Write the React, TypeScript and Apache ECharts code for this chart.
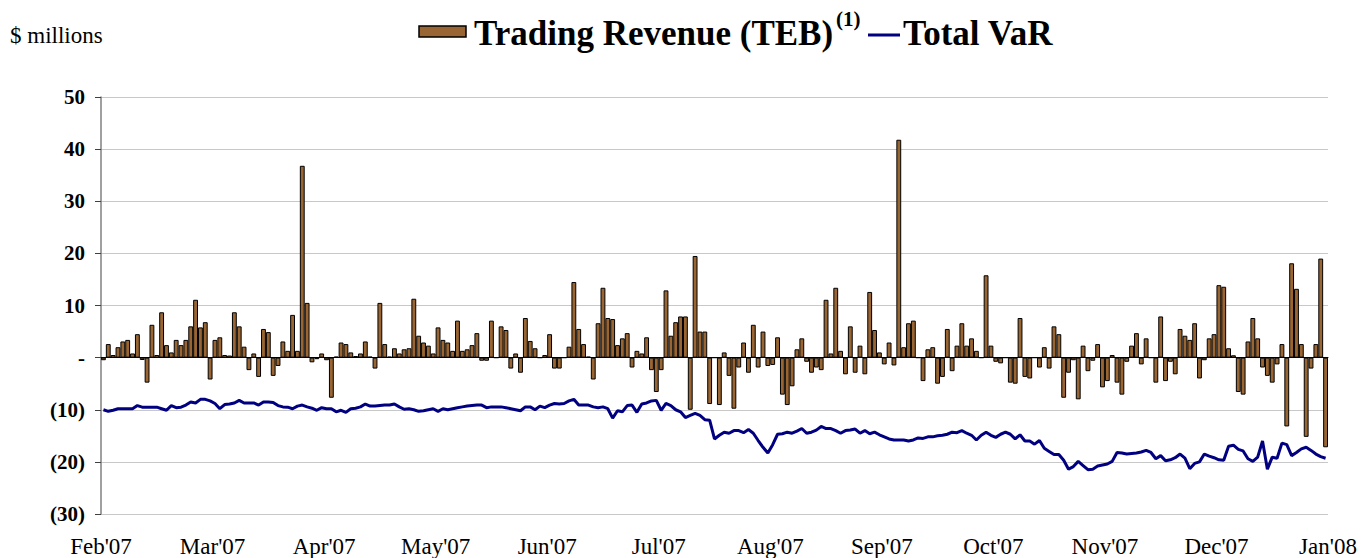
import React, { useEffect, useRef } from "react";
import * as echarts from "echarts";

const monthLabels = ["Feb'07", "Mar'07", "Apr'07", "May'07", "Jun'07", "Jul'07", "Aug'07", "Sep'07", "Oct'07", "Nov'07", "Dec'07", "Jan'08"];

const tradingRevenue = [
  -0.5, 2.6, 0.5, 2.0, 3.1, 3.4, 0.8, 4.5, -0.45, -4.8,
  6.3, 0.5, 8.7, 2.4, 1.0, 3.4, 2.4, 3.4, 6.0, 11.1,
  5.8, 6.8, -4.2, 3.4, 3.9, 0.5, 0.4, 8.7, 6.0, 2.1,
  -2.4, 0.8, -3.7,
  5.5, 4.9, -3.5, -1.6, 3.1, 1.3, 8.2, 1.3, 36.8, 10.5,
  -0.9, -0.3, 0.8, -0.5, -7.7, 0.2, 2.9, 2.6, 1.0, 0.3,
  0.8, 3.1, 0.2, -2.1, 10.5, 2.6, 0.2, 1.8, 0.8, 1.6,
  1.8, 11.3,
  4.2, 2.9, 2.3, 0.8, 5.8, 3.4, 2.9, 1.3, 7.1, 1.3,
  1.6, 2.4, 4.7, -0.6, -0.6, 7.1, 0, 6.0, 5.3, -2.1,
  0.8, -2.9, 7.6, 3.2, 1.8, 0, 0.5, 4.5, -2.1, -2.1,
  0, 2.1, 14.5,
  5.5, 2.6, 0.2, -4.2, 6.6, 13.4, 7.6, 7.4, 2.4, 3.7,
  4.7, -1.9, 1.3, 0.8, 3.9, -2.4, -6.6, -2.4, 12.9, 4.2,
  6.8, 7.9, 7.9, -10.0, 19.5, 5.0, 5.0, -8.9, 0, -9.1,
  1.0, -3.5, -9.8,
  -1.9, 2.9, -2.9, 6.3, -1.9, 5.0, -1.6, -1.4, 3.9, -7.1,
  -9.1, -5.5, 1.6, 3.7, -0.8, -2.9, -1.9, -2.4, 11.1, 0.8,
  13.4, 1.3, -3.2, 6.0, -2.9, 2.3, -3.2, 12.6, 5.3, 1.0,
  -1.3, 2.9, -1.5, 41.8,
  2.0, 6.6, 7.1, 0, -4.5, 1.6, 2.0, -5.0, -3.7, 5.5,
  -2.6, 2.3, 6.6, 2.3, 3.7, 1.3, 0, 15.8, 2.3, -0.8,
  -1.1, 0, -4.8, -5.0, 7.6, -3.7, -4.0, 0, -1.9, 2.0,
  -2.1, 6.0, 4.5,
  -7.7, -2.9, -0.5, -8.0, 2.3, -2.6, -0.6, 2.6, -5.7, -4.5,
  0.5, -4.8, -7.1, -0.8, 2.3, 4.7, -1.3, 3.7, 0, -4.8,
  7.9, -4.5, -0.8, -3.2, 5.5, 4.2, 3.4, 6.6, -4.0, -0.5,
  3.7, 4.5, 13.9,
  13.6, 1.8, 0.45, -6.6, -7.1, 3.1, 7.6, 3.7, -1.9, -3.5,
  -4.8, -1.3, 2.6, -13.2, 18.1, 13.2, 2.6, -15.2, -2.1, 2.6,
  19.0, -17.2,
];

const totalVaR = [
  -10.0, -10.3, -10.1, -9.8, -9.8, -9.8, -9.8, -9.2, -9.5, -9.5,
  -9.5, -9.5, -9.8, -10.1, -9.2, -9.6, -9.5, -9.1, -8.5, -8.7,
  -8.0, -8.0, -8.3, -8.8, -9.8, -9.0, -8.9, -8.7, -8.2, -8.7,
  -8.7, -8.7, -9.1,
  -8.5, -8.5, -8.6, -9.2, -9.45, -9.5, -9.8, -9.3, -9.1, -9.45,
  -9.7, -10.1, -9.6, -9.8, -9.8, -10.4, -10.1, -10.5, -9.8, -9.7,
  -9.45, -8.9, -9.3, -9.3, -9.2, -9.1, -9.1, -8.9, -9.45, -9.9,
  -9.8, -10.0,
  -10.3, -10.2, -10.0, -9.8, -10.3, -9.8, -10.0, -9.8, -9.6, -9.45,
  -9.3, -9.2, -9.1, -9.1, -9.6, -9.45, -9.45, -9.45, -9.6, -9.8,
  -10.0, -10.2, -9.45, -9.45, -10.0, -9.3, -9.6, -9.1, -8.8, -8.9,
  -8.8, -8.3, -8.0,
  -9.1, -9.1, -9.1, -9.45, -9.6, -9.45, -9.8, -11.6, -10.2, -10.4,
  -9.2, -9.1, -10.5, -8.9, -8.7, -8.3, -8.2, -10.1, -8.8, -9.2,
  -10.0, -10.4, -11.5, -11.1, -10.7, -11.1, -11.9, -12.0, -15.6, -14.9,
  -14.3, -14.5, -14.0,
  -14.0, -14.4, -13.8, -14.5, -15.9, -17.2, -18.3, -16.7, -14.7, -14.6,
  -14.3, -14.5, -14.1, -13.6, -14.5, -14.3, -13.9, -13.2, -13.6, -13.6,
  -14.0, -14.5, -14.0, -13.9, -13.7, -14.5, -14.0, -14.6, -14.3, -14.8,
  -15.2, -15.6, -15.8, -15.8,
  -15.8, -16.0, -15.8, -15.4, -15.5, -15.2, -15.2, -15.0, -14.9, -14.7,
  -14.3, -14.4, -14.0, -14.5, -14.9, -15.8, -14.9, -14.3, -14.9, -15.3,
  -14.7, -14.3, -14.7, -15.6, -14.8, -16.0, -16.0, -16.6, -15.9, -17.4,
  -18.0, -18.6, -18.6,
  -19.7, -21.4, -20.9, -19.9, -20.7, -21.5, -21.4, -20.8, -20.6, -20.4,
  -19.9, -18.2, -18.3, -18.5, -18.4, -18.3, -18.1, -17.8, -18.2, -19.4,
  -18.8, -19.8, -19.6, -19.2, -18.5, -19.3, -21.3, -20.3, -20.0, -18.5,
  -18.9, -19.2, -19.6,
  -19.7, -17.0, -16.8, -17.6, -17.9, -19.4, -19.9, -19.1, -16.0, -21.4,
  -19.1, -19.3, -16.4, -16.7, -18.8, -18.2, -17.5, -17.2, -17.8, -18.5,
  -19.0, -19.3,
];

const tradingDays = tradingRevenue.map((_, i) => "Day " + (i + 1));

const SERIF = "'Liberation Serif', 'Times New Roman', serif";
const BROWN = "#996633";
const NAVY = "#000080";

export default function App() {
  const ref = useRef<HTMLDivElement>(null);

  useEffect(() => {
    if (!ref.current) return;
    const chart = echarts.init(ref.current, undefined, { renderer: "svg" });
    chart.setOption({
      animation: false,
      backgroundColor: "#ffffff",
      grid: { left: 101, right: 33, top: 97, bottom: 43 },
      xAxis: [
        {
          type: "category",
          data: tradingDays,
          boundaryGap: true,
          axisLine: { show: true, onZero: true, lineStyle: { color: "#000000", width: 1 } },
          axisTick: { show: false },
          axisLabel: { show: false },
          splitLine: { show: false },
        },
        {
          type: "value",
          position: "bottom",
          min: 0,
          max: 11,
          interval: 1,
          axisLine: { show: false },
          axisTick: { show: false },
          splitLine: { show: false },
          axisLabel: {
            show: true,
            margin: 21,
            fontFamily: SERIF,
            fontSize: 23,
            color: "#000000",
            showMinLabel: true,
            showMaxLabel: true,
            hideOverlap: false,
            formatter: (v: number) => monthLabels[Math.round(v)] ?? "",
          },
        },
      ],
      yAxis: {
        type: "value",
        min: -30,
        max: 50,
        interval: 10,
        axisLine: { show: true, lineStyle: { color: "#808080", width: 1.5 } },
        axisTick: { show: true, inside: false, length: 6, lineStyle: { color: "#404040", width: 1 } },
        splitLine: { show: true, lineStyle: { color: "#C8C8C8", width: 1 } },
        axisLabel: {
          margin: 16,
          fontFamily: SERIF,
          fontWeight: "bold",
          fontSize: 21,
          color: "#000000",
          formatter: (v: number) => (v === 0 ? "-" : v < 0 ? "(" + -v + ")" : String(v)),
        },
      },
      series: [
        {
          name: "Trading Revenue (TEB)",
          type: "bar",
          xAxisIndex: 0,
          data: tradingRevenue,
          barCategoryGap: "0%",
          itemStyle: { color: BROWN, borderColor: "#000000", borderWidth: 1 },
        },
        {
          name: "Total VaR",
          type: "line",
          xAxisIndex: 0,
          data: totalVaR,
          showSymbol: false,
          symbol: "none",
          lineStyle: { color: NAVY, width: 3 },
          z: 5,
        },
      ],
      graphic: [
        {
          type: "text",
          x: 10,
          y: 35,
          style: { text: "$ millions", font: "23px " + SERIF, fill: "#000000", textVerticalAlign: "middle" },
        },
        {
          type: "rect",
          shape: { x: 419, y: 26, width: 47, height: 11 },
          style: { fill: BROWN, stroke: "#000000", lineWidth: 1.5 },
        },
        {
          type: "text",
          x: 474,
          y: 33,
          style: {
            text: "Trading Revenue (TEB)",
            font: "bold 35px " + SERIF,
            fill: "#000000",
            textVerticalAlign: "middle",
          },
        },
        {
          type: "text",
          x: 836,
          y: 19,
          style: { text: "(1)", font: "bold 21px " + SERIF, fill: "#000000", textVerticalAlign: "middle" },
        },
        {
          type: "line",
          shape: { x1: 868, y1: 35, x2: 900, y2: 35 },
          style: { stroke: NAVY, lineWidth: 3 },
        },
        {
          type: "text",
          x: 903,
          y: 33,
          style: {
            text: "Total VaR",
            font: "bold 35px " + SERIF,
            fill: "#000000",
            textVerticalAlign: "middle",
          },
        },
      ],
    });
    return () => chart.dispose();
  }, []);

  return (
    <div
      ref={ref}
      style={{ position: "fixed", left: 0, top: 0, width: 1361, height: 558, background: "#fff" }}
    />
  );
}
